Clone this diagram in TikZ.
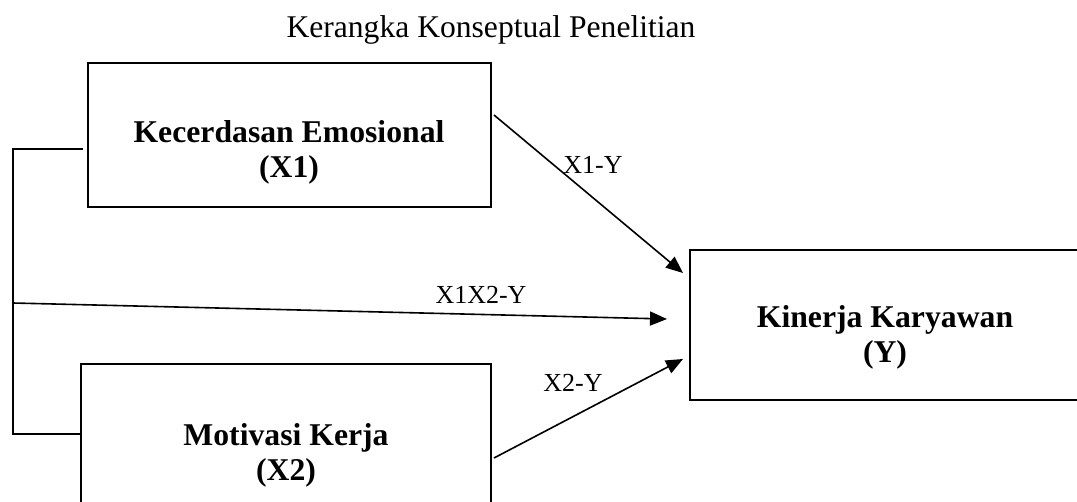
\documentclass[tikz,border=0pt]{standalone}
\usepackage{fontspec}
\setmainfont{Liberation Serif}
\usetikzlibrary{arrows.meta}
\begin{document}
\begin{tikzpicture}[x=1pt,y=-1pt,
  box/.style={draw,line width=2.2pt,rectangle,inner sep=0pt},
  boxtext/.style={font=\fontsize{31.7}{35}\selectfont\bfseries,align=center,inner sep=0pt},
  lab/.style={font=\fontsize{26}{30}\selectfont,inner sep=0pt},
  conn/.style={line width=1.6pt},
  arr/.style={conn,-{Triangle[length=17pt,width=14pt]}}]
\useasboundingbox (0,0) rectangle (1077,501);
\clip (0,0) rectangle (1077,501);
% title
\node[font=\fontsize{31.6}{36}\selectfont,inner sep=0pt] (title) at (491,30) {Kerangka Konseptual Penelitian};
% boxes
\node[box,minimum width=403pt,minimum height=144pt] (x1) at (289.5,135) {};
\node[box,minimum width=410pt,minimum height=160pt] (x2) at (286,444) {};
\node[box,minimum width=400pt,minimum height=150pt] (y) at (890,325) {};
% box texts
\node[boxtext] (x1t) at (289,152) {Kecerdasan Emosional\\(X1)};
\node[boxtext] (x2t) at (286,455) {Motivasi Kerja\\(X2)};
\node[boxtext] (yt) at (885,337) {Kinerja Karyawan\\(Y)};
% coordinates
\coordinate (t1) at (83,149);
\coordinate (c1) at (13,149);
\coordinate (c2) at (13,434);
\coordinate (t2) at (81,434);
\coordinate (m) at (13,303);
\coordinate (me) at (667,319);
\coordinate (a1s) at (494,115);
\coordinate (a1e) at (683,273);
\coordinate (a2s) at (494,458);
\coordinate (a2e) at (683,359);
% connectors
\draw[conn] (t1) -- (c1) -- (c2) -- (t2);
\draw[arr] (m) -- (me);
\draw[arr] (a1s) -- (a1e);
\draw[arr] (a2s) -- (a2e);
% labels
\node[lab] (l1) at (593,165) {X1-Y};
\node[lab] (l12) at (481,295) {X1X2-Y};
\node[lab] (l2) at (573,383) {X2-Y};
\end{tikzpicture}
\end{document}
